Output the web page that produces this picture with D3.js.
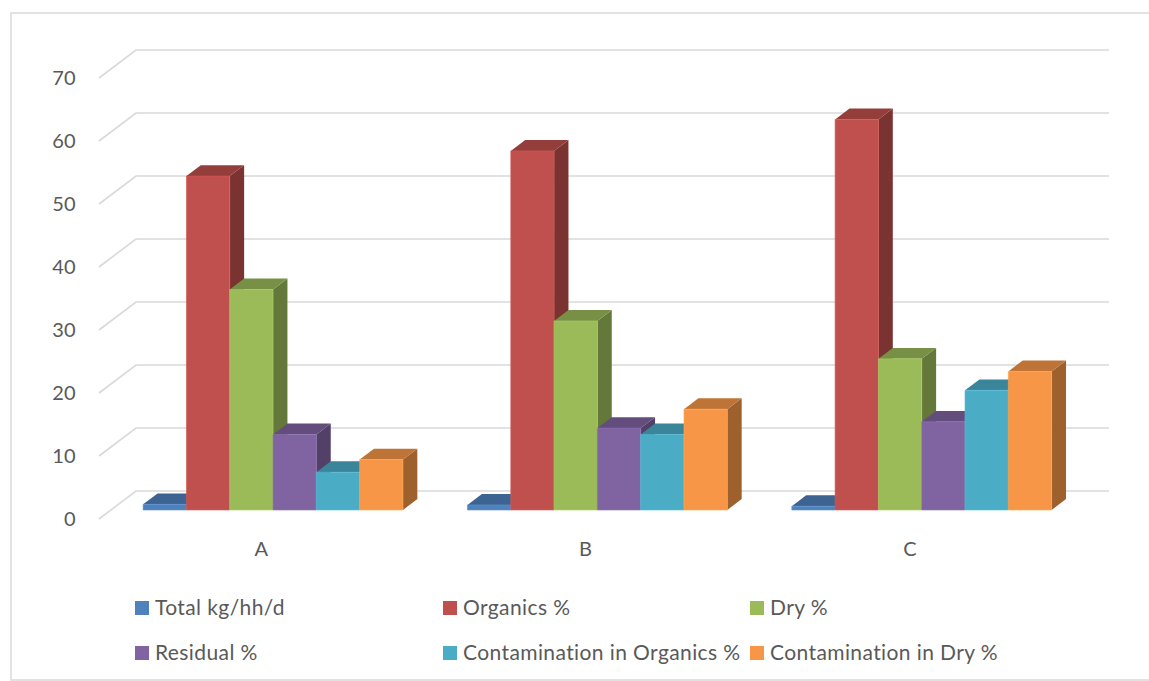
<!DOCTYPE html>
<html>
<head>
<meta charset="utf-8">
<script src="https://cdn.jsdelivr.net/npm/d3@7"></script>
<style>
  html, body { margin: 0; padding: 0; background: #fff; }
  svg { display: block; }
  text { font-family: Lato, "Open Sans", sans-serif; fill: #595959; }
</style>
</head>
<body>
<svg id="chart" width="1149" height="681"></svg>
<script>
// Waste composition by site
const categories = ["A", "B", "C"];
const seriesNames = [
  "Total kg/hh/d", "Organics %", "Dry %",
  "Residual %", "Contamination in Organics %", "Contamination in Dry %"
];
const totalKg = [0.9, 0.8, 0.6];
const organics = [53, 57, 62];
const dry = [35, 30, 24];
const residual = [12, 13, 14];
const contamOrganics = [6, 12, 19];
const contamDry = [8, 16, 22];
const yTicks = [0, 10, 20, 30, 40, 50, 60, 70];
const colors = ["#4f81bd", "#c0504d", "#9bbb59", "#8064a2", "#4bacc6", "#f79646"];

const seriesValues = [totalKg, organics, dry, residual, contamOrganics, contamDry];

const svg = d3.select("#chart");

// chart area frame
svg.append("rect")
  .attr("x", 11).attr("y", 13)
  .attr("width", 1160).attr("height", 667)
  .attr("fill", "none").attr("stroke", "#d9d9d9").attr("stroke-width", 1.5);

// front plane scales, depth runs up and to the right
const x = d3.scaleBand().domain(categories).range([99, 1072]).paddingInner(0).paddingOuter(0);
const xSub = d3.scaleBand().domain(seriesNames).range([0, x.bandwidth()])
  .paddingInner(0).paddingOuter(0.745);
const y = d3.scaleLinear().domain([0, 70]).range([519, 78]);
const depth = { dx: 37, dy: -28 };
const barFront = 0.321, barBack = 0.71;

function proj(px, v, d) {
  return [px + depth.dx * d, y(v) + depth.dy * d];
}

// gridlines: left wall diagonal + back wall horizontal
const grid = svg.append("g");
yTicks.forEach(v => {
  const a = proj(x.range()[0], v, 0);
  const b = proj(x.range()[0], v, 1);
  const c = proj(x.range()[1], v, 1);
  grid.append("path")
    .attr("d", d3.line()([a, b, c]))
    .attr("fill", "none")
    .attr("stroke", "#d9d9d9")
    .attr("stroke-width", 1.6);
});

// value axis labels
svg.append("g").selectAll("text")
  .data(yTicks).join("text")
  .attr("x", 76)
  .attr("y", d => y(d))
  .attr("dy", "0.35em")
  .attr("text-anchor", "end")
  .attr("font-size", 20)
  .attr("letter-spacing", 0.3)
  .text(d => d);

// bars: painter's order, left to right
const bars = svg.append("g");
categories.forEach((cat, ci) => {
  seriesNames.forEach((name, si) => {
    const v = seriesValues[si][ci];
    const x0 = x(cat) + xSub(name);
    const x1 = x0 + xSub.bandwidth();
    const base = d3.color(colors[si]);
    const topCol = base.darker(0.73);
    const sideCol = base.darker(1.25);
    const fTL = proj(x0, v, barFront), fTR = proj(x1, v, barFront);
    const fBL = proj(x0, 0, barFront), fBR = proj(x1, 0, barFront);
    const bTL = proj(x0, v, barBack), bTR = proj(x1, v, barBack);
    const bBR = proj(x1, 0, barBack);
    const poly = pts => "M" + pts.map(p => p.join(",")).join("L") + "Z";
    bars.append("path").attr("d", poly([fTR, bTR, bBR, fBR])).attr("fill", sideCol);
    bars.append("path").attr("d", poly([fTL, bTL, bTR, fTR])).attr("fill", topCol);
    bars.append("path").attr("d", poly([fTL, fTR, fBR, fBL])).attr("fill", base)
      .attr("stroke", base.brighter(0.3)).attr("stroke-width", 0.6);
  });
});

// category labels
svg.append("g").selectAll("text")
  .data(categories).join("text")
  .attr("x", d => x(d) + x.bandwidth() / 2)
  .attr("y", 556)
  .attr("text-anchor", "middle")
  .attr("font-size", 20)
  .text(d => d);

// legend, three columns by two rows
const legCols = [135, 443, 750];
const legRows = [601, 646];
const legend = svg.append("g");
seriesNames.forEach((name, i) => {
  const lx = legCols[i % 3], ly = legRows[Math.floor(i / 3)];
  legend.append("rect").attr("x", lx).attr("y", ly).attr("width", 14).attr("height", 14)
    .attr("fill", colors[i]);
  legend.append("text").attr("x", lx + 20).attr("y", ly + 14)
    .attr("font-size", 21).attr("letter-spacing", 0.4).text(name);
});
</script>
</body>
</html>
